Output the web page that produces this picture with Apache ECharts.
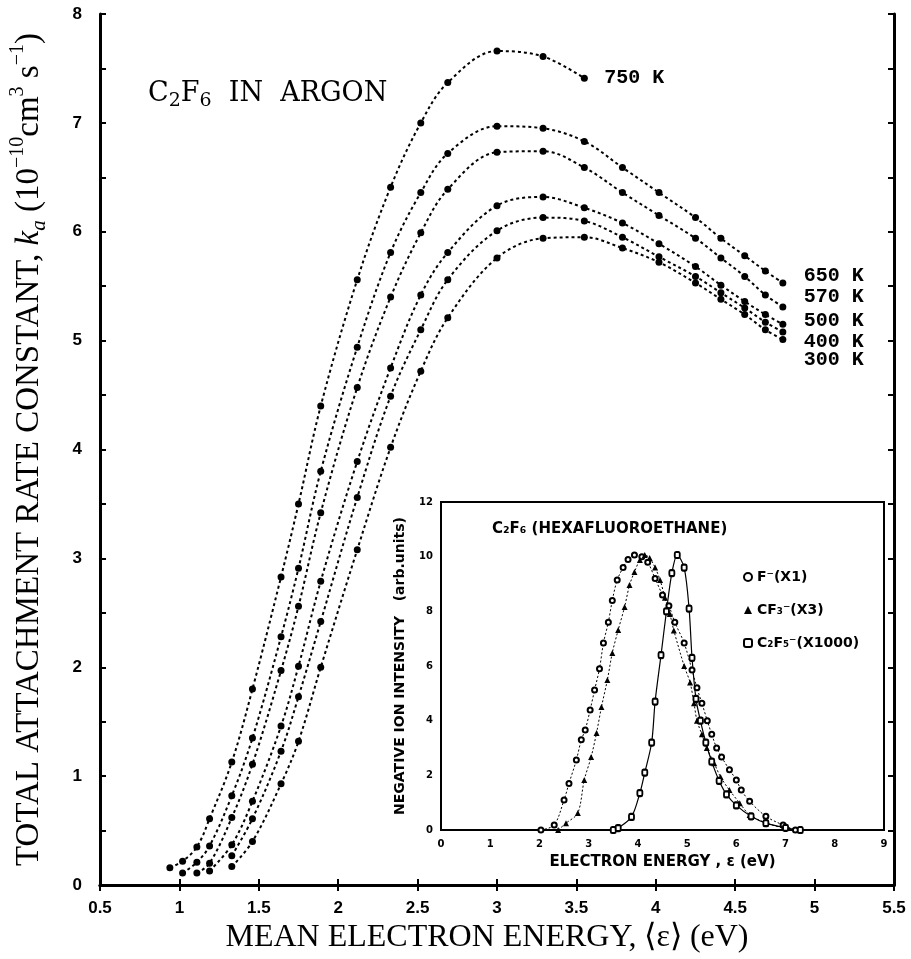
<!DOCTYPE html>
<html>
<head>
<meta charset="utf-8">
<title>C2F6 in argon</title>
<script src="https://cdn.jsdelivr.net/npm/echarts@6.0.0/dist/echarts.min.js"></script>
<style>
  html, body { margin: 0; padding: 0; background: #fff; overflow: hidden; }
  #chart { width: 911px; height: 959px; }
</style>
</head>
<body>
<div id="chart"></div>
<script>
// main plot: mean electron energy (eV) vs total attachment rate constant (1e-10 cm^3 s^-1)
const energy750 = [0.94, 1.02, 1.11, 1.19, 1.33, 1.46, 1.64, 1.75, 1.89, 2.12, 2.33, 2.52, 2.69, 3.0, 3.29, 3.55];
const rate750 = [0.16, 0.22, 0.35, 0.61, 1.13, 1.80, 2.83, 3.50, 4.40, 5.56, 6.41, 7.0, 7.37, 7.66, 7.61, 7.41];

const energy650 = [1.02, 1.11, 1.19, 1.33, 1.46, 1.64, 1.75, 1.89, 2.12, 2.33, 2.52, 2.69, 3.0, 3.29, 3.55, 3.79, 4.02, 4.25, 4.41, 4.56, 4.69, 4.80];
const rate650 = [0.11, 0.21, 0.36, 0.82, 1.35, 2.28, 2.91, 3.80, 4.94, 5.81, 6.36, 6.72, 6.97, 6.95, 6.83, 6.59, 6.36, 6.13, 5.94, 5.78, 5.64, 5.53];

const energy570 = [1.11, 1.19, 1.33, 1.46, 1.64, 1.75, 1.89, 2.12, 2.33, 2.52, 2.69, 3.0, 3.29, 3.55, 3.79, 4.02, 4.25, 4.41, 4.56, 4.69, 4.80];
const rate570 = [0.11, 0.2, 0.62, 1.11, 1.97, 2.56, 3.42, 4.57, 5.40, 5.99, 6.39, 6.73, 6.74, 6.59, 6.36, 6.15, 5.94, 5.76, 5.59, 5.42, 5.31];

const energy500 = [1.19, 1.33, 1.46, 1.64, 1.75, 1.89, 2.12, 2.33, 2.52, 2.69, 3.0, 3.29, 3.55, 3.79, 4.02, 4.25, 4.41, 4.56, 4.69, 4.80];
const rate500 = [0.13, 0.37, 0.77, 1.46, 2.01, 2.79, 3.89, 4.75, 5.42, 5.81, 6.24, 6.32, 6.22, 6.08, 5.89, 5.68, 5.51, 5.36, 5.24, 5.15];

const energy400 = [1.33, 1.46, 1.64, 1.75, 1.89, 2.12, 2.33, 2.52, 2.69, 3.0, 3.29, 3.55, 3.79, 4.02, 4.25, 4.41, 4.56, 4.69, 4.80];
const rate400 = [0.27, 0.61, 1.23, 1.73, 2.42, 3.56, 4.49, 5.10, 5.56, 6.01, 6.13, 6.10, 5.95, 5.77, 5.59, 5.44, 5.30, 5.17, 5.08];

const energy300 = [1.33, 1.46, 1.64, 1.75, 1.89, 2.12, 2.33, 2.52, 2.69, 3.0, 3.29, 3.55, 3.79, 4.02, 4.25, 4.41, 4.56, 4.69, 4.80];
const rate300 = [0.17, 0.40, 0.93, 1.32, 2.0, 3.08, 4.02, 4.72, 5.21, 5.76, 5.94, 5.95, 5.85, 5.72, 5.53, 5.38, 5.24, 5.10, 5.01];

const tempLabels = ['750 K', '650 K', '570 K', '500 K', '400 K', '300 K'];

// inset: negative ion intensity (arb. units) vs electron energy (eV)
const fEnergy = [2.03, 2.3, 2.5, 2.6, 2.75, 2.85, 2.93, 3.03, 3.12, 3.22, 3.3, 3.4, 3.48, 3.58, 3.7, 3.8, 3.93, 4.08, 4.2, 4.35, 4.5, 4.63, 4.75, 4.94, 5.1, 5.2, 5.3, 5.41, 5.5, 5.6, 5.7, 5.86, 6.0, 6.1, 6.27, 6.6, 6.95, 7.2];
const fIntensity = [0, 0.18, 1.1, 1.7, 2.56, 3.3, 3.66, 4.39, 5.12, 5.9, 6.84, 7.6, 8.4, 9.15, 9.6, 9.9, 10.06, 10.0, 9.8, 9.2, 8.6, 8.2, 7.6, 6.84, 5.85, 5.2, 4.64, 4.0, 3.5, 3.0, 2.67, 2.2, 1.83, 1.46, 1.05, 0.5, 0.18, 0];

const cf3Energy = [2.38, 2.54, 2.78, 2.91, 3.05, 3.16, 3.26, 3.38, 3.48, 3.6, 3.73, 3.83, 3.93, 4.04, 4.14, 4.24, 4.35, 4.45, 4.55, 4.65, 4.73, 4.94, 5.06, 5.14, 5.2, 5.3, 5.4, 5.55, 5.68, 5.86, 6.07, 6.27, 6.6, 6.95];
const cf3Intensity = [0, 0.25, 0.62, 1.83, 2.67, 3.55, 4.5, 5.49, 6.48, 7.32, 8.16, 8.96, 9.44, 9.88, 10.06, 9.95, 9.6, 9.15, 8.5, 7.9, 7.3, 6.0, 5.4, 4.64, 4.0, 3.5, 3.0, 2.44, 1.94, 1.46, 0.98, 0.55, 0.26, 0.07];

const c2f5Energy = [3.5, 3.6, 3.87, 4.04, 4.14, 4.28, 4.35, 4.47, 4.58, 4.69, 4.8, 4.94, 5.04, 5.1, 5.18, 5.27, 5.38, 5.5, 5.65, 5.8, 6.0, 6.3, 6.6, 7.0, 7.3];
const c2f5Intensity = [0, 0.07, 0.48, 1.35, 2.1, 3.2, 4.7, 6.4, 8.0, 9.4, 10.06, 9.6, 8.1, 6.3, 4.8, 4.0, 3.2, 2.5, 1.8, 1.3, 0.9, 0.5, 0.25, 0.08, 0];

const insetNames = ['F⁻(X1)', 'CF₃⁻(X3)', 'C₂F₅⁻(X1000)'];

const pairs = (xs, ys) => xs.map((x, i) => [x, ys[i]]);

const chart = echarts.init(document.getElementById('chart'), null, { renderer: 'canvas' });

const mainSets = [
    [energy750, rate750], [energy650, rate650], [energy570, rate570],
    [energy500, rate500], [energy400, rate400], [energy300, rate300]
];
// nudges so the end labels sit like in the original figure
const labelOffsets = [[12, 0], [13, -7], [13, -10], [13, -3], [13, 10], [13, 20]];

const mainSeries = mainSets.map(([xs, ys], i) => ({
    name: tempLabels[i],
    type: 'line',
    xAxisIndex: 0,
    yAxisIndex: 0,
    data: pairs(xs, ys),
    smooth: 0.35,
    symbol: 'circle',
    symbolSize: 7,
    itemStyle: { color: '#000' },
    lineStyle: { color: '#000', width: 2, type: [3, 3] },
    endLabel: {
        show: true,
        formatter: tempLabels[i],
        offset: labelOffsets[i],
        fontFamily: 'Liberation Mono',
        fontWeight: 'bold',
        fontSize: 20,
        color: '#000'
    },
    z: 3
}));

const insetSeries = [
    {
        name: insetNames[0],
        data: pairs(fEnergy, fIntensity),
        symbol: 'emptyCircle',
        symbolSize: 5,
        lineStyle: { color: '#000', width: 1, type: [2, 2] }
    },
    {
        name: insetNames[1],
        data: pairs(cf3Energy, cf3Intensity),
        symbol: 'triangle',
        symbolSize: 6,
        lineStyle: { color: '#000', width: 1, type: [2, 2] }
    },
    {
        name: insetNames[2],
        data: pairs(c2f5Energy, c2f5Intensity),
        symbol: 'emptyRoundRect',
        symbolSize: [5, 6],
        lineStyle: { color: '#000', width: 1.2 }
    }
].map(s => Object.assign({
    type: 'line',
    xAxisIndex: 2,
    yAxisIndex: 2,
    smooth: 0.3,
    itemStyle: { color: '#000', borderWidth: 1.5 },
    z: 5
}, s));

const tickLabel = { fontFamily: 'Liberation Sans', fontWeight: 'bold', fontSize: 17, color: '#000' };
const axisLine = { show: true, lineStyle: { color: '#000', width: 3 } };
const tickIn = { show: true, inside: true, length: 6, lineStyle: { color: '#000', width: 2 } };
const smallLabel = { fontFamily: 'DejaVu Sans', fontWeight: 'bold', fontSize: 10, color: '#000' };
const thinLine = { show: true, lineStyle: { color: '#000', width: 2 } };
const smallTick = { show: true, inside: true, length: 4, lineStyle: { color: '#000', width: 1.5 } };

const serif = 'Liberation Serif';

const option = {
    backgroundColor: '#fff',
    animation: false,
    grid: [
        { left: 100, top: 14, width: 794, height: 872 },
        { left: 441, top: 502, width: 443, height: 328, show: true, backgroundColor: '#fff', borderColor: '#000', borderWidth: 2, z: 4 }
    ],
    xAxis: [
        {
            gridIndex: 0, type: 'value', position: 'bottom', min: 0.5, max: 5.5, interval: 0.5,
            axisLine: axisLine, axisTick: tickIn, splitLine: { show: false },
            axisLabel: Object.assign({ margin: 15, formatter: v => String(v) }, tickLabel),
            name: '{t|MEAN ELECTRON ENERGY, ⟨ε⟩ (eV)}',
            nameLocation: 'middle',
            nameGap: 25,
            nameTextStyle: { padding: [0, 20, 0, 0], rich: { t: { fontFamily: serif, fontSize: 32, color: '#000' } } }
        },
        {
            gridIndex: 0, type: 'value', position: 'top', min: 0.5, max: 5.5, interval: 0.5,
            axisLine: axisLine, axisTick: tickIn, axisLabel: { show: false }, splitLine: { show: false }
        },
        {
            gridIndex: 1, type: 'value', position: 'bottom', min: 0, max: 9, interval: 1,
            axisLine: thinLine, axisTick: smallTick, splitLine: { show: false },
            axisLabel: Object.assign({ margin: 9 }, smallLabel),
            name: 'ELECTRON ENERGY , ε (eV)',
            nameLocation: 'middle',
            nameGap: 25,
            nameTextStyle: { fontFamily: 'DejaVu Sans', fontWeight: 'bold', fontSize: 15, color: '#000' }
        }
    ],
    yAxis: [
        {
            gridIndex: 0, type: 'value', position: 'left', min: 0, max: 8, interval: 1,
            axisLine: axisLine, axisTick: tickIn,
            minorTick: { show: true, splitNumber: 2, length: 6, lineStyle: { color: '#000', width: 2 } },
            splitLine: { show: false },
            axisLabel: Object.assign({ margin: 18 }, tickLabel),
            name: '{t|TOTAL ATTACHMENT RATE CONSTANT, }{k|k}{sub|a}{t| (10}{sup|−10}{t|cm}{sup|3}{t| s}{sup|−1}{t|)}',
            nameLocation: 'middle',
            nameGap: 50,
            nameTextStyle: {
                rich: {
                    t: { fontFamily: serif, fontSize: 33, lineHeight: 42, color: '#000' },
                    k: { fontFamily: serif, fontStyle: 'italic', fontSize: 33, lineHeight: 42, color: '#000' },
                    sub: { fontFamily: serif, fontStyle: 'italic', fontSize: 21, lineHeight: 21, verticalAlign: 'bottom', color: '#000' },
                    sup: { fontFamily: serif, fontSize: 20, lineHeight: 20, verticalAlign: 'top', color: '#000' }
                }
            }
        },
        {
            gridIndex: 0, type: 'value', position: 'right', min: 0, max: 8, interval: 0.5,
            axisLine: axisLine, axisTick: tickIn, axisLabel: { show: false }, splitLine: { show: false }
        },
        {
            gridIndex: 1, type: 'value', position: 'left', min: 0, max: 12, interval: 2,
            axisLine: thinLine, axisTick: smallTick, splitLine: { show: false },
            axisLabel: Object.assign({ margin: 8 }, smallLabel),
            name: 'NEGATIVE ION INTENSITY   (arb.units)',
            nameLocation: 'middle',
            nameGap: 34,
            nameTextStyle: { fontFamily: 'DejaVu Sans', fontWeight: 'bold', fontSize: 14, color: '#000' }
        },
        {
            gridIndex: 1, type: 'value', position: 'right', min: 0, max: 12, interval: 2,
            axisLine: thinLine, axisTick: smallTick, axisLabel: { show: false }, splitLine: { show: false }
        }
    ],
    legend: {
        data: [
            { name: insetNames[0], icon: 'emptyCircle' },
            { name: insetNames[1], icon: 'triangle' },
            { name: insetNames[2], icon: 'emptyRoundRect' }
        ],
        orient: 'vertical',
        left: 738,
        top: 565,
        itemWidth: 8,
        itemHeight: 8,
        itemGap: 19,
        selectedMode: false,
        textStyle: { fontFamily: 'DejaVu Sans', fontWeight: 'bold', fontSize: 14, color: '#000' }
    },
    graphic: [
        {
            type: 'text',
            left: 148,
            top: 80,
            style: {
                text: '{t|C}{s|2}{t|F}{s|6}{t|  IN  ARGON}',
                rich: {
                    t: { fontFamily: 'DejaVu Serif', fontSize: 27, lineHeight: 34, fill: '#000' },
                    s: { fontFamily: 'DejaVu Serif', fontSize: 19, lineHeight: 22, verticalAlign: 'bottom', fill: '#000' }
                }
            }
        },
        {
            type: 'text',
            left: 492,
            top: 522,
            z: 10,
            style: {
                text: 'C₂F₆ (HEXAFLUOROETHANE)',
                fontFamily: 'DejaVu Sans',
                fontWeight: 'bold',
                fontSize: 15,
                fill: '#000'
            }
        }
    ],
    series: mainSeries.concat(insetSeries)
};

chart.setOption(option);
</script>
</body>
</html>
